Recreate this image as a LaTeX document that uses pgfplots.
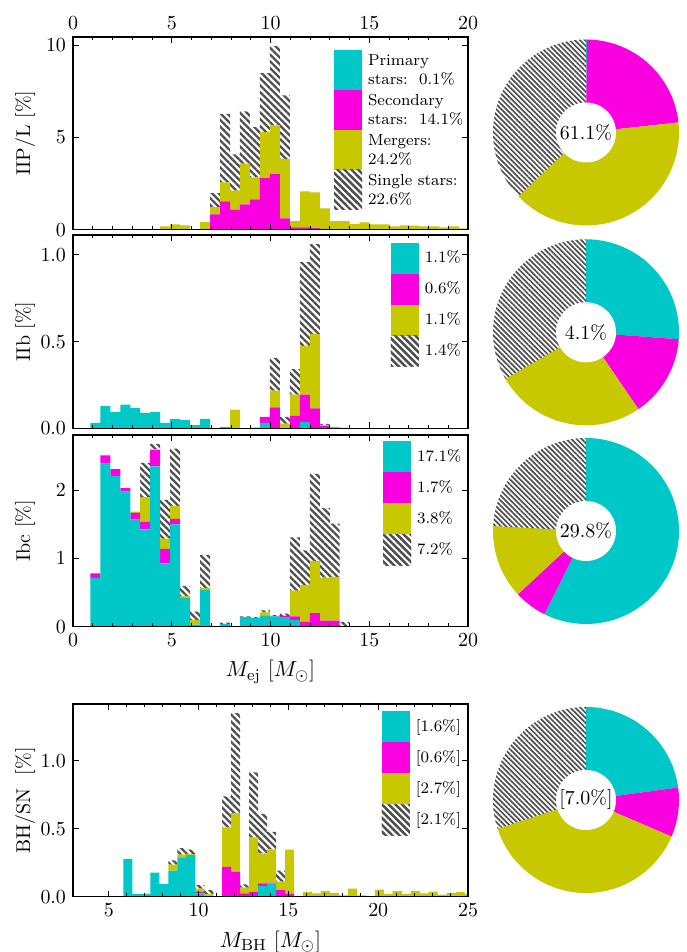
\documentclass[border=0pt]{standalone}
\usepackage{pgfplots}
\usepackage{pgfplotstable}
\pgfplotsset{compat=1.18}
\usetikzlibrary{patterns.meta}
\definecolor{cP}{RGB}{0,200,200}
\definecolor{cS}{RGB}{250,0,225}
\definecolor{cM}{RGB}{200,200,0}
\definecolor{cH}{RGB}{80,80,80}

% bin centre, primary, secondary, mergers, single (stacked increments)
\pgfplotstableread{
x p s m h
4.6675 0 0 0.18 0
5.1725 0 0 0.29 0
5.6775 0 0 0.23 0
6.1825 0 0 0 0
6.6875 0 0 0.42 0
7.1925 0 0.83 0.40 0.76
7.6975 0 1.54 1.03 3.72
8.2025 0 1.08 1.04 1.97
8.7075 0 1.37 2.21 2.84
9.2125 0 1.65 1.19 2.73
9.7175 0 2.80 2.50 3.20
10.2225 0 3.02 2.64 4.30
10.7275 0 0.61 3.24 3.44
11.2325 0 0.13 0.34 0
11.7375 0 0.13 1.95 0
12.2425 0 0.09 1.94 0
12.7475 0 0.05 1.11 0
13.2525 0 0 0.47 0
13.7575 0 0 0.47 0
14.2625 0 0 0.31 0
14.7675 0 0 0.40 0
15.2725 0 0 0.29 0
15.7775 0 0 0.29 0
16.2825 0 0 0.18 0
16.7875 0 0 0.24 0
17.2925 0 0 0.22 0
17.7975 0 0 0.18 0
18.3025 0 0 0.18 0
18.8075 0 0 0.13 0
19.3125 0 0 0.18 0
19.8175 0 0 0.07 0
}\tIIP

\pgfplotstableread{
x p s m h
1.1325 0.031 0 0 0
1.6375 0.130 0 0 0
2.1425 0.095 0 0 0
2.6475 0.136 0 0 0
3.1525 0.118 0 0 0
3.6575 0.089 0 0 0
4.1625 0.095 0 0 0
4.6675 0.031 0 0 0
5.1725 0.054 0 0 0
5.6775 0.049 0 0 0
6.1825 0.019 0 0 0
6.6875 0.054 0 0 0
7.1925 0.002 0 0 0
7.6975 0.008 0 0 0
8.2025 0 0 0.107 0
8.7075 0 0 0 0
9.2125 0.004 0 0 0
9.7175 0.031 0.035 0 0
10.2225 0 0.120 0.097 0.189
10.7275 0 0 0.027 0.039
11.2325 0 0.072 0.122 0.148
11.7375 0.037 0.157 0.282 0.483
12.2425 0 0.115 0.429 0.518
12.7475 0 0.012 0.007 0.006
13.2525 0 0.004 0.004 0
13.7575 0 0.002 0 0
}\tIIb

\pgfplotstableread{
x p s m h
1.1325 0.717 0.063 0 0
1.6375 2.39 0.12 0 0
2.1425 2.21 0.10 0 0
2.6475 1.98 0.05 0 0
3.1525 1.57 0.10 0.015 0
3.6575 1.425 0.115 0.36 0.50
4.1625 2.35 0.24 0.01 0.08
4.6675 0.93 0.21 0.15 0.57
5.1725 1.50 0.08 0.19 0.84
5.6775 0.42 0 0.03 0.15
6.1825 0.03 0 0.07 0.12
6.6875 0.54 0 0.03 0.48
7.1925 0 0.01 0 0
7.6975 0.04 0 0 0.02
8.2025 0.01 0 0 0
8.7075 0.14 0 0 0.01
9.2125 0.13 0 0 0.01
9.7175 0.16 0 0.05 0.03
10.2225 0.15 0.01 0 0.01
10.7275 0.14 0.02 0 0.03
11.2325 0.10 0.05 0.38 0.78
11.7375 0 0.07 0.54 0.51
12.2425 0 0.20 0.76 1.28
12.7475 0 0.09 0.63 1.02
13.2525 0 0.09 0.64 0.78
13.7575 0 0.01 0 0.06
}\tIbc

\pgfplotstableread{
x p s m h
6.06 0.277 0 0 0
6.56 0.02 0 0 0
7.06 0.02 0 0 0
7.56 0.178 0 0 0
8.06 0.094 0 0 0
8.56 0.193 0 0.044 0.03
9.06 0.29 0 0.02 0.048
9.56 0.306 0 0.008 0.032
10.06 0.025 0.012 0.022 0.027
10.56 0 0 0.02 0.029
11.06 0 0 0 0
11.56 0 0.22 0.29 0.23
12.06 0 0.185 0.43 0.738
12.56 0 0.025 0.042 0.024
13.06 0 0.035 0.402 0.479
13.56 0.079 0.02 0.221 0.29
14.06 0.099 0.005 0.244 0.129
14.56 0 0.049 0.062 0.082
15.06 0 0.022 0.324 0
15.56 0 0 0.007 0
16.06 0 0 0.035 0
16.56 0 0 0.025 0
17.06 0 0 0.042 0
17.56 0 0 0.027 0
18.06 0 0 0.01 0
18.56 0 0 0.059 0
19.06 0 0 0.01 0
19.56 0 0 0 0
20.06 0 0 0.052 0
20.56 0 0 0.02 0
21.06 0 0 0.042 0
21.56 0 0 0.02 0
22.06 0 0 0.042 0
22.56 0 0 0.025 0
23.06 0 0 0.037 0
23.56 0 0 0.015 0
24.06 0 0 0.027 0
24.56 0 0 0.035 0
25.06 0 0 0.02 0
}\tBH

\pgfplotsset{
  P/.style={fill=cP, draw=none},
  S/.style={fill=cS, draw=none},
  M/.style={fill=cM, draw=none},
  H/.style={draw=none, pattern={Lines[angle=-45,distance=2.4bp,line width=1.15bp]}, pattern color=cH},
  hist/.style={scale only axis, width=197.5bp, anchor=south west,
    ybar stacked, bar width=0.505, xmin=0, xmax=20, ymin=0,
    enlargelimits=false, axis on top,
    xtick={0,5,...,20}, minor x tick num=4,
    major tick length=3bp, minor tick length=1.7bp,
    tick style={black, line width=0.5bp},
    axis line style={line width=0.75bp},
    legend image code/.code={\path (0bp,-7.75bp) rectangle (14bp,7.75bp); \fill[##1] (0bp,-7bp) rectangle (14bp,7bp);},
    legend style={draw=none, fill=none, inner sep=0pt, outer sep=0pt, row sep=0pt, anchor=north west,
      font=\fontsize{8}{9.5}\selectfont, nodes={inner xsep=3bp, inner ysep=0.5bp}},
    legend cell align=left,
    every axis y label/.style={at={(axis description cs:-0.121,0.5)}, rotate=90, anchor=center},
    every axis x label/.style={at={(axis description cs:0.5,-0.235)}, anchor=center, font=\fontsize{11}{13}\selectfont},
  },
  pie/.style={scale only axis, width=93bp, height=93bp, xmin=-1, xmax=1, ymin=-1, ymax=1,
    hide axis, anchor=center, clip=false},
}

% two-line legend text
\newcommand\twoline[2]{\vbox{\baselineskip=9.5bp\lineskiplimit=-10bp
  \hbox{\rule{0pt}{6.2bp}#1}\hbox{\rule[-5bp]{0pt}{5bp}#2}}}

\newcommand\donutangles[4]{%
  \pgfmathsetmacro\wT{#1+#2+#3+#4}%
  \pgfmathsetmacro\wA{90}%
  \pgfmathsetmacro\wB{90-360*#1/\wT}%
  \pgfmathsetmacro\wC{\wB-360*#2/\wT}%
  \pgfmathsetmacro\wD{\wC-360*#3/\wT}%
  \pgfmathsetmacro\wE{-270}}
\newcommand\donutplots[1]{%
  \addplot[fill=cP, draw=none, domain=\wB:\wA, samples=80] ({cos(x)},{sin(x)}) -- (axis cs:0,0) -- cycle;
  \addplot[fill=cS, draw=none, domain=\wC:\wB, samples=80] ({cos(x)},{sin(x)}) -- (axis cs:0,0) -- cycle;
  \addplot[fill=cM, draw=none, domain=\wD:\wC, samples=80] ({cos(x)},{sin(x)}) -- (axis cs:0,0) -- cycle;
  \addplot[draw=none, pattern={Lines[angle=-45,distance=1.8bp,line width=0.85bp]}, pattern color=cH, domain=\wE:\wD, samples=80] ({cos(x)},{sin(x)}) -- (axis cs:0,0) -- cycle;
  \addplot[fill=white, draw=none, domain=0:360, samples=100] ({0.3226*cos(x)},{0.3226*sin(x)}) -- cycle;
  \node[font=\fontsize{10}{12}\selectfont] at (axis cs:0,0) {#1};}

\begin{document}
\begin{tikzpicture}
\useasboundingbox (0,0) rectangle (343.5bp,476bp);

% ---- panel 1: IIP/L
\begin{axis}[hist, at={(36.5bp,361.15bp)}, height=96.35bp, ymax=10.46, ytick={0,5,10},
  xticklabel pos=upper, ylabel={IIP/L [\%]},
  legend image code/.code={\path (0bp,-10bp) rectangle (14bp,10bp); \fill[#1] (0bp,-7bp) rectangle (14bp,7bp);},
  legend style={at={(0.661,0.933)}}]
\addplot[P] table[x=x,y=p]{\tIIP};
\addplot[S] table[x=x,y=s]{\tIIP};
\addplot[M] table[x=x,y=m]{\tIIP};
\addplot[H] table[x=x,y=h]{\tIIP};
\addlegendentry{\twoline{Primary}{stars:\ \ 0.1\%}}
\addlegendentry{\twoline{Secondary}{stars:\ \ 14.1\%}}
\addlegendentry{\twoline{Mergers:}{24.2\%}}
\addlegendentry{\twoline{Single stars:}{22.6\%}}
\end{axis}

% ---- panel 2: IIb
\begin{axis}[hist, at={(36.5bp,261.85bp)}, height=96.65bp, ymax=1.115, ytick={0,0.5,1},
  yticklabel style={/pgf/number format/.cd, fixed, fixed zerofill, precision=1},
  xticklabels={,,,,,}, ylabel={IIb [\%]},
  legend style={at={(0.805,0.961)}}]
\addplot[P] table[x=x,y=p]{\tIIb};
\addplot[S] table[x=x,y=s]{\tIIb};
\addplot[M] table[x=x,y=m]{\tIIb};
\addplot[H] table[x=x,y=h]{\tIIb};
\addlegendentry{1.1\%}
\addlegendentry{0.6\%}
\addlegendentry{1.1\%}
\addlegendentry{1.4\%}
\end{axis}

% ---- panel 3: Ibc
\begin{axis}[hist, at={(36.5bp,162.65bp)}, height=95.85bp, ymax=2.81, ytick={0,1,2},
  ylabel={Ibc [\%]}, xlabel={$M_{\rm ej}$ [$M_\odot$]},
  legend style={at={(0.785,0.968)}}]
\addplot[P] table[x=x,y=p]{\tIbc};
\addplot[S] table[x=x,y=s]{\tIbc};
\addplot[M] table[x=x,y=m]{\tIbc};
\addplot[H] table[x=x,y=h]{\tIbc};
\addlegendentry{17.1\%}
\addlegendentry{1.7\%}
\addlegendentry{3.8\%}
\addlegendentry{7.2\%}
\end{axis}

% ---- panel 4: BH/SN
\begin{axis}[hist, at={(36.5bp,27.65bp)}, height=96.35bp, xmin=3, xmax=25, xtick={5,10,...,25},
  ymax=1.42, ytick={0,0.5,1},
  yticklabel style={/pgf/number format/.cd, fixed, fixed zerofill, precision=1},
  ylabel={BH/SN\ \ [\%]}, xlabel={$M_{\rm BH}$ [$M_\odot$]},
  legend style={at={(0.782,0.963)}}]
\addplot[P] table[x=x,y=p]{\tBH};
\addplot[S] table[x=x,y=s]{\tBH};
\addplot[M] table[x=x,y=m]{\tBH};
\addplot[H] table[x=x,y=h]{\tBH};
\addlegendentry{[1.6\%]}
\addlegendentry{[0.6\%]}
\addlegendentry{[2.7\%]}
\addlegendentry{[2.1\%]}
\end{axis}

% ---- donuts
\donutangles{0.1}{14.1}{24.2}{22.6}
\begin{axis}[pie, at={(293bp,409.75bp)}]
\donutplots{61.1\%}
\end{axis}

\donutangles{1.1}{0.6}{1.1}{1.4}
\begin{axis}[pie, at={(293bp,309.85bp)}]
\donutplots{4.1\%}
\end{axis}

\donutangles{17.1}{1.7}{3.8}{7.2}
\begin{axis}[pie, at={(293bp,210.5bp)}]
\donutplots{29.8\%}
\end{axis}

\donutangles{1.6}{0.6}{2.7}{2.1}
\begin{axis}[pie, at={(293bp,76bp)}]
\donutplots{[7.0\%]}
\end{axis}
\end{tikzpicture}
\end{document}
